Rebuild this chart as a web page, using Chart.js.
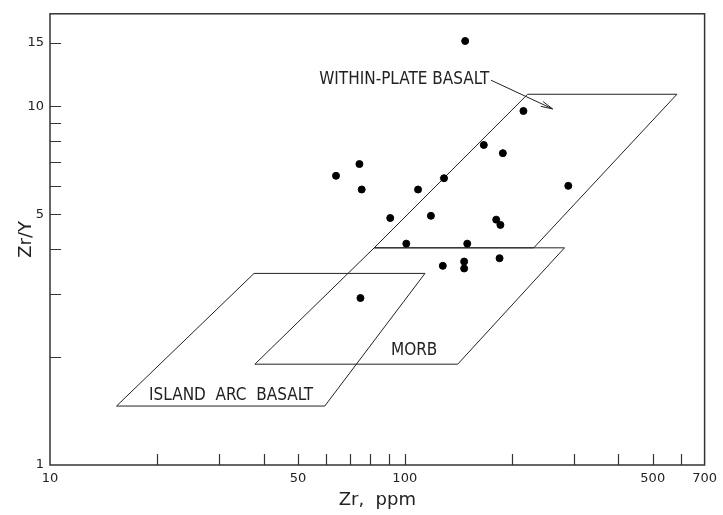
<!DOCTYPE html>
<html>
<head>
<meta charset="utf-8">
<script src="https://cdn.jsdelivr.net/npm/chart.js@4.4.1/dist/chart.umd.min.js"></script>
<style>
  html, body { margin: 0; padding: 0; background: #fff; }
  #wrap { width: 723px; height: 515px; }
</style>
</head>
<body>
<div id="wrap"><canvas id="zrChart"></canvas></div>
<script>
// samples: Zr (ppm) and Zr/Y
const zrPpm = [148, 216, 167, 189, 74.5, 64, 129, 75.6, 109, 289, 91, 118.5, 181, 186, 101, 150, 128, 147, 147, 185, 75];
const zrY = [15.2, 9.7, 7.8, 7.4, 6.9, 6.4, 6.3, 5.86, 5.86, 6.0, 4.88, 4.95, 4.83, 4.67, 4.14, 4.14, 3.59, 3.69, 3.53, 3.77, 2.92];

// discrimination fields (closed outlines)
const withinPlateZr = [82, 222, 585, 231, 82];
const withinPlateZrY = [4.03, 10.8, 10.8, 4.03, 4.03];
const morbZr = [37.8, 82, 282, 141, 37.8];
const morbZrY = [1.91, 4.03, 4.03, 1.91, 1.91];
const islandArcZr = [15.4, 37.6, 114, 59.5, 15.4];
const islandArcZrY = [1.46, 3.42, 3.42, 1.46, 1.46];

// leader arrow for the within-plate label
const arrowZr = [175, 261];
const arrowZrY = [11.82, 9.83];

const fieldNames = ['WITHIN-PLATE BASALT', 'MORB', 'ISLAND  ARC  BASALT'];

const xTicks = [10, 20, 30, 40, 50, 60, 70, 80, 90, 100, 200, 300, 400, 500, 600, 700];
const xLabels = [10, 50, 100, 500, 700];
const yTicks = [1, 2, 3, 4, 5, 6, 7, 8, 9, 10, 15];
const yLabels = [1, 5, 10, 15];

const toPoints = (xs, ys) => xs.map((v, i) => ({ x: v, y: ys[i] }));

const outline = (pts) => ({
    type: 'line',
    data: pts,
    showLine: true,
    fill: false,
    tension: 0,
    borderColor: '#222',
    borderWidth: 1,
    pointRadius: 0,
    pointHoverRadius: 0,
});

const ink = '#222';

const decorations = {
    id: 'decorations',
    afterDatasetsDraw(chart) {
        const { ctx, chartArea: a, scales: { x, y } } = chart;
        ctx.save();

        // frame
        ctx.strokeStyle = '#333';
        ctx.lineWidth = 1.5;
        ctx.strokeRect(a.left, a.top, a.right - a.left, a.bottom - a.top);

        // inward ticks
        ctx.lineWidth = 1.2;
        ctx.beginPath();
        xTicks.forEach(v => {
            if (v === 10 || v === 700) return;
            const px = Math.round(x.getPixelForValue(v)) + 0.5;
            ctx.moveTo(px, a.bottom);
            ctx.lineTo(px, a.bottom - 11);
        });
        yTicks.forEach(v => {
            if (v === 1) return;
            const py = Math.round(y.getPixelForValue(v)) + 0.5;
            ctx.moveTo(a.left, py);
            ctx.lineTo(a.left + 11, py);
        });
        ctx.stroke();

        // arrow head
        const x0 = x.getPixelForValue(arrowZr[0]), y0 = y.getPixelForValue(arrowZrY[0]);
        const x1 = x.getPixelForValue(arrowZr[1]), y1 = y.getPixelForValue(arrowZrY[1]);
        const ang = Math.atan2(y1 - y0, x1 - x0);
        ctx.strokeStyle = ink;
        ctx.lineWidth = 1;
        ctx.beginPath();
        ctx.moveTo(x1 - 12 * Math.cos(ang - 0.22), y1 - 12 * Math.sin(ang - 0.22));
        ctx.lineTo(x1, y1);
        ctx.lineTo(x1 - 12 * Math.cos(ang + 0.22), y1 - 12 * Math.sin(ang + 0.22));
        ctx.stroke();

        // field names
        ctx.fillStyle = ink;
        ctx.font = '17px "DejaVu Sans Condensed", "DejaVu Sans"';
        ctx.textBaseline = 'middle';
        ctx.textAlign = 'right';
        ctx.fillText(fieldNames[0], x.getPixelForValue(173), y.getPixelForValue(11.85));
        ctx.textAlign = 'center';
        ctx.fillText(fieldNames[1], x.getPixelForValue(106.3), y.getPixelForValue(2.08));
        ctx.fillText(fieldNames[2], x.getPixelForValue(32.4), y.getPixelForValue(1.56));

        ctx.restore();
    }
};

const zrChart = new Chart(document.getElementById('zrChart'), {
    type: 'scatter',
    data: {
        datasets: [
            {
                label: 'Samples',
                data: toPoints(zrPpm, zrY),
                backgroundColor: '#000',
                borderColor: '#000',
                pointRadius: 3.5,
            },
            outline(toPoints(withinPlateZr, withinPlateZrY)),
            outline(toPoints(morbZr, morbZrY)),
            outline(toPoints(islandArcZr, islandArcZrY)),
            outline(toPoints(arrowZr, arrowZrY)),
        ]
    },
    options: {
        responsive: true,
        maintainAspectRatio: false,
        animation: false,
        layout: { padding: { top: 10, right: 17, left: 0, bottom: 0 } },
        plugins: {
            legend: { display: false },
            tooltip: { enabled: false },
        },
        scales: {
            x: {
                type: 'logarithmic',
                min: 10,
                max: 700,
                afterBuildTicks: (s) => { s.ticks = xTicks.map(v => ({ value: v })); },
                afterFit: (s) => { s.height = 50; },
                grid: { display: false, drawTicks: false },
                border: { display: false },
                ticks: {
                    autoSkip: false,
                    maxRotation: 0,
                    padding: 6,
                    color: '#222',
                    font: { family: 'DejaVu Sans', size: 13 },
                    callback: (v) => xLabels.includes(v) ? String(v) : '',
                },
                title: {
                    display: true,
                    text: 'Zr,  ppm',
                    color: '#222',
                    font: { family: 'DejaVu Sans', size: 18 },
                    padding: { top: 0, bottom: 4 },
                },
            },
            y: {
                type: 'logarithmic',
                min: 1,
                max: 18.1,
                afterBuildTicks: (s) => { s.ticks = yTicks.map(v => ({ value: v })); },
                afterFit: (s) => { s.width = 50; },
                grid: { display: false, drawTicks: false },
                border: { display: false },
                ticks: {
                    autoSkip: false,
                    padding: 6,
                    color: '#222',
                    font: { family: 'DejaVu Sans', size: 13 },
                    callback: (v) => yLabels.includes(v) ? String(v) : '',
                },
                title: {
                    display: true,
                    text: 'Zr/Y',
                    color: '#222',
                    font: { family: 'DejaVu Sans', size: 18 },
                    padding: { top: 16, bottom: 0 },
                },
            },
        },
    },
    plugins: [decorations],
});
</script>
</body>
</html>
